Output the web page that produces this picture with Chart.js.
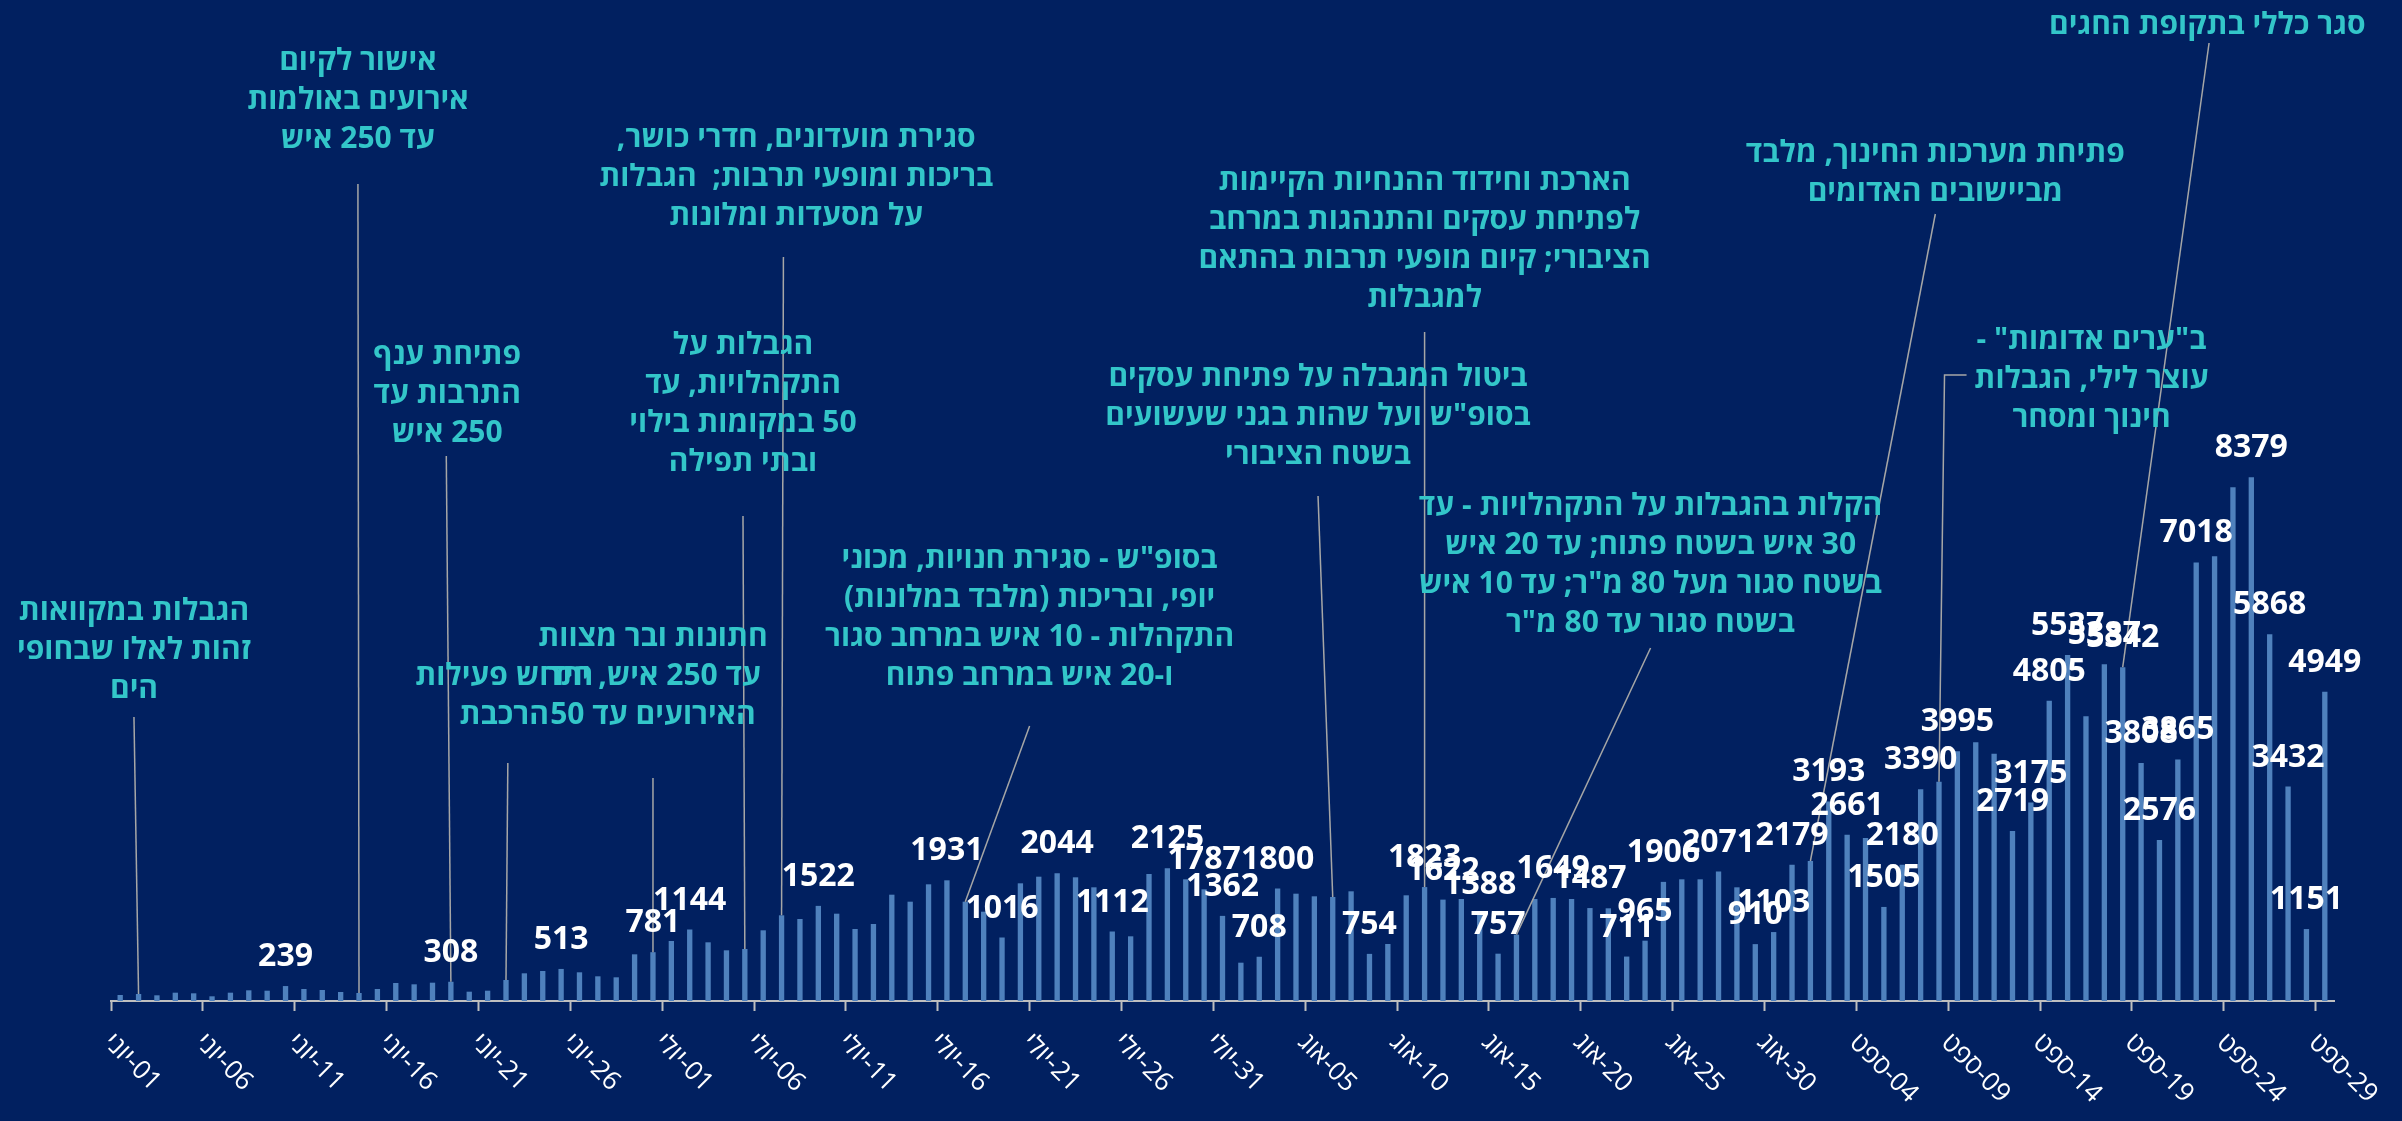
<!DOCTYPE html>
<html>
<head>
<meta charset="utf-8">
<script src="https://cdn.jsdelivr.net/npm/chart.js@4.4.1/dist/chart.umd.min.js"></script>
<style>
  html, body { margin: 0; padding: 0; background: #012060; }
  #wrap { width: 2402px; height: 1121px; }
</style>
</head>
<body>
<div id="wrap"><canvas id="chart" width="2402" height="1121"></canvas></div>
<script>
let navy = '#012060';
let barBlue = '#4f81bd';
let teal = '#33c6c9';
let lineGrey = '#a6a6a6';
let axisGrey = '#bfbfbf';

// months shown on the axis (June - Sept 2020)
let monthNames = ['יוני', 'יולי', 'אוג', 'ספט'];
let monthDays = [30, 31, 31, 29];

// daily new cases, 1 June .. 29 Sept
let cases = [
  96, 112, 91, 133, 123, 75, 133, 171, 165, 239,
  192, 176, 144, 128, 192, 288, 267, 293, 308, 149,
  165, 336, 443, 480, 513, 459, 395, 379, 747, 781,
  960, 1144, 939, 811, 832, 1131, 1371, 1312, 1522, 1397,
  1152, 1232, 1701, 1589, 1867, 1931, 1589, 1429, 1016, 1883,
  1989, 2044, 1979, 1819, 1112, 1035, 2032, 2125, 1947, 1787,
  1362, 613, 708, 1800, 1717, 1675, 1664, 1755, 754, 912,
  1691, 1823, 1622, 1632, 1388, 757, 1061, 1632, 1649, 1632,
  1487, 1483, 711, 965, 1906, 1947, 1947, 2071, 1819, 910,
  1103, 2179, 2240, 3193, 2661, 2608, 1505, 2180, 3390, 3509,
  3995, 4139, 3957, 2719, 3175, 4805, 5537, 4555, 5387, 5342,
  3808, 2576, 3865, 7018, 7115, 8220, 8379, 5868, 3432, 1151,
  4949
];

// days (index into cases) that carry a value label
let labeledDays = [
  9, 18, 24, 29, 31, 38, 45, 48, 51, 54, 57, 59, 60, 62, 63, 68, 71, 72, 74, 75,
  78, 80, 82, 83, 84, 87, 89, 90, 91, 93, 94, 96, 97, 98, 100, 103, 104, 105, 106, 108,
  109, 110, 111, 112, 113, 116, 117, 118, 119, 120
];

let dayLabels = [];
monthNames.forEach((m, k) => {
  for (let d = 1; d <= monthDays[k]; d++) {
    dayLabels.push(m + '\u200E-' + String(d).padStart(2, '0'));
  }
});

// event notes: text, where the box sits (x as day position, y in px) and which day it points to
let notes = [
  {lines: ['הגבלות במקוואות', 'זהות לאלו שבחופי', 'הים'], at: 0.75, top: 611, path: [[0.75, 717]], day: 1},
  {lines: ['אישור לקיום', 'אירועים באולמות', 'עד 250 איש'], at: 12.94, top: 61, path: [[12.94, 184]], day: 13},
  {lines: ['פתיחת ענף', 'התרבות עד', '250 איש'], at: 17.8, top: 355, path: [[17.75, 456]], day: 18},
  {lines: ['חידוש פעילות', 'הרכבת'], at: 20.9, top: 676, path: [[21.1, 763]], day: 21},
  {lines: ['חתונות ובר מצוות', 'עד 250 איש, יתר', 'האירועים עד 50'], at: 29, top: 637, path: [[29, 778]], day: 29},
  {lines: ['הגבלות על', 'התקהלויות, עד', '50 במקומות בילוי', 'ובתי תפילה'], at: 33.9, top: 345, path: [[33.9, 516]], day: 34},
  {lines: ['סגירת מועדונים, חדרי כושר,', 'בריכות ומופעי תרבות;  הגבלות', 'על מסעדות ומלונות'], at: 36.8, top: 138, path: [[36.1, 257]], day: 36},
  {lines: ['בסופ"ש - סגירת חנויות, מכוני', 'יופי, ובריכות (מלבד במלונות)', 'התקהלות - 10 איש במרחב סגור', 'ו-20 איש במרחב פתוח'], at: 49.5, top: 559, path: [[49.5, 726]], day: 46},
  {lines: ['ביטול המגבלה על פתיחת עסקים', 'בסופ"ש ועל שהות בגני שעשועים', 'בשטח הציבורי'], at: 65.2, top: 377, path: [[65.2, 496]], day: 66},
  {lines: ['הארכת וחידוד ההנחיות הקיימות', 'לפתיחת עסקים והתנהגות במרחב', 'הציבורי; קיום מופעי תרבות בהתאם', 'למגבלות'], at: 71, top: 181, path: [[71, 332]], day: 71},
  {lines: ['הקלות בהגבלות על התקהלויות - עד', '30 איש בשטח פתוח; עד 20 איש', 'בשטח סגור מעל 80 מ"ר; עד 10 איש', 'בשטח סגור עד 80 מ"ר'], at: 83.3, top: 506, path: [[83.3, 648]], day: 76},
  {lines: ['פתיחת מערכות החינוך, מלבד', 'מביישובים האדומים'], at: 98.8, top: 153, path: [[98.8, 214]], day: 92},
  {lines: ['ב"ערים אדומות" -', 'עוצר לילי, הגבלות', 'חינוך ומסחר'], at: 107.3, top: 340, path: [[100.5, 375], [99.3, 375]], day: 99},
  {lines: ['סגר כללי בתקופת החגים'], at: 113.6, top: 25, path: [[113.7, 43]], day: 109}
];

const background = {
  id: 'background',
  beforeDraw(chart) {
    const ctx = chart.ctx;
    ctx.save();
    ctx.fillStyle = navy;
    ctx.fillRect(0, 0, chart.width, chart.height);
    ctx.restore();
  }
};

const overlay = {
  id: 'overlay',
  afterDraw(chart) {
    const ctx = chart.ctx;
    const x = chart.scales.x;
    const bars = chart.getDatasetMeta(0).data;

    // leader lines
    ctx.save();
    ctx.strokeStyle = lineGrey;
    ctx.lineWidth = 1.5;
    notes.forEach(n => {
      ctx.beginPath();
      n.path.forEach((p, k) => {
        let px = x.getPixelForValue(p[0]);
        if (k === 0) ctx.moveTo(px, p[1]); else ctx.lineTo(px, p[1]);
      });
      ctx.lineTo(bars[n.day].x, bars[n.day].y);
      ctx.stroke();
    });
    ctx.restore();

    // note texts
    ctx.save();
    ctx.fillStyle = teal;
    ctx.font = 'bold 30px "Open Sans", "Liberation Sans", sans-serif';
    ctx.direction = 'rtl';
    ctx.textAlign = 'center';
    ctx.textBaseline = 'middle';
    notes.forEach(n => {
      let cx = x.getPixelForValue(n.at);
      n.lines.forEach((t, k) => ctx.fillText(t, cx, n.top + k * 39));
    });
    ctx.restore();

    // value labels
    ctx.save();
    ctx.fillStyle = '#ffffff';
    ctx.font = 'bold 32px "Open Sans", sans-serif';
    ctx.textAlign = 'center';
    ctx.textBaseline = 'alphabetic';
    labeledDays.forEach(i => {
      ctx.fillText(String(cases[i]), bars[i].x, bars[i].y - 20);
    });
    ctx.restore();

    // rotated date labels, every 5th day
    ctx.save();
    ctx.fillStyle = '#ffffff';
    ctx.font = '26px "Open Sans", sans-serif';
    ctx.textAlign = 'left';
    ctx.textBaseline = 'top';
    let step = x.getPixelForValue(1) - x.getPixelForValue(0);
    dayLabels.forEach((lab, i) => {
      if (i % 5 !== 0) return;
      let px = x.getPixelForValue(i) - step / 2;
      ctx.save();
      ctx.translate(px + 6, x.top + 28);
      ctx.rotate(Math.PI / 4);
      ctx.fillText(lab, 0, 0);
      ctx.restore();
    });
    ctx.restore();
  }
};

new Chart(document.getElementById('chart'), {
  type: 'bar',
  data: {
    labels: dayLabels,
    datasets: [{
      data: cases,
      backgroundColor: barBlue,
      barPercentage: 0.29,
      categoryPercentage: 1
    }]
  },
  options: {
    responsive: false,
    animation: false,
    devicePixelRatio: 1,
    layout: {
      padding: {left: 111, right: 68, top: 1, bottom: 110}
    },
    plugins: {
      legend: {display: false},
      tooltip: {enabled: false}
    },
    scales: {
      x: {
        offset: true,
        ticks: {display: false},
        grid: {
          display: true,
          offset: true,
          drawOnChartArea: false,
          drawTicks: true,
          tickLength: 10,
          tickWidth: 2,
          tickColor: ctx => ctx.index % 5 === 0 ? axisGrey : 'rgba(0,0,0,0)'
        },
        border: {display: true, color: axisGrey, width: 2}
      },
      y: {
        display: false,
        min: 0,
        max: 16000
      }
    }
  },
  plugins: [background, overlay]
});
</script>
</body>
</html>
